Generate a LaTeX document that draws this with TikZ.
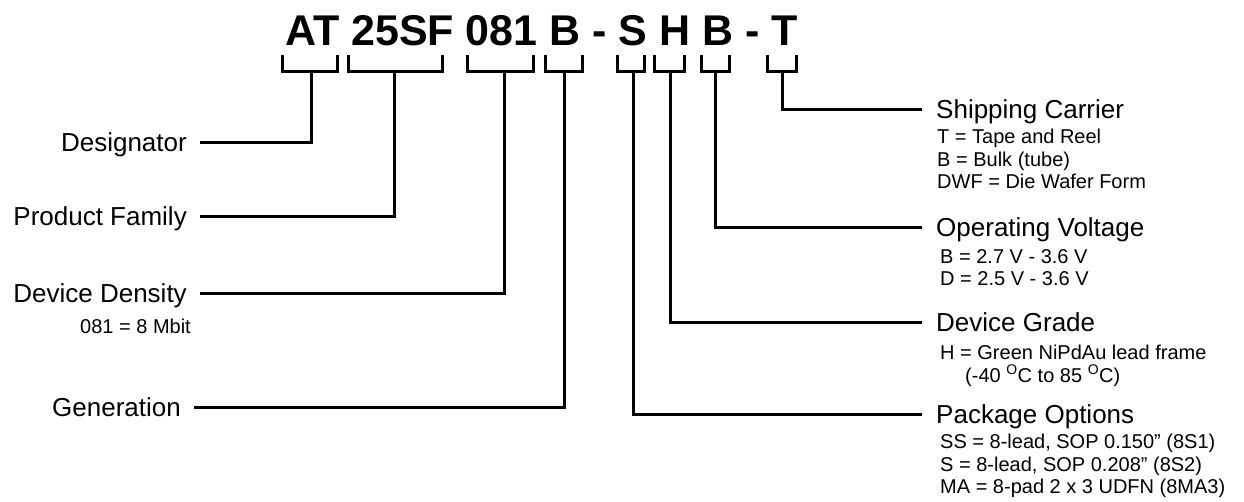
\documentclass[tikz,border=0pt]{standalone}
\usepackage{fontspec}
\setmainfont{Liberation Sans}
\usetikzlibrary{positioning}
\tikzset{
	partcode/.style={font=\fontsize{43}{43}\selectfont\bfseries, inner sep=0pt},
	brk/.style={line width=3pt},
	lead/.style={line width=3pt},
	% field names and their value lists
	field/.style={font=\fontsize{26}{26}\selectfont, inner sep=0pt, text height=18pt, text depth=0pt},
	note/.style={font=\fontsize{20}{22.5}\selectfont, inner sep=0pt, align=left, anchor=north west},
}

\begin{document}
\begin{tikzpicture}[x=1pt, y=-1pt]
	\useasboundingbox (0,0) rectangle (1244,502);
	\node[partcode, anchor=base west] (code) at (285,46) {AT 25SF 081 B - S H B - T};
	\foreach \l/\r/\m/\n in {282/337/311/ds, 348/442/394/pf, 467/533/504/dd, 545/582/564/gn, 617/644/633/po, 654/684/670/dg, 701/729/715/ov, 767/796/782/sc} {
		\draw[brk] (\l,55) |- (\r,72) -- (\r,55);
		\coordinate (b\n) at (\m,72);
	}
	\node[field, anchor=east] (ds) at (187,143) {Designator};
	\node[field, anchor=east] (pf) at (187,217) {Product Family};
	\node[field, anchor=east] (dd) at (187,294) {Device Density};
	\node[field, anchor=east] (gn) at (181,407) {Generation};
	\node[note] (ddn) at (80,319) {081 = 8 Mbit};
	\node[field, anchor=west] (sc) at (936,110) {Shipping Carrier};
	\node[field, anchor=west] (ov) at (936,228) {Operating Voltage};
	\node[field, anchor=west] (dg) at (936,323) {Device Grade};
	\node[field, anchor=west] (po) at (936,414) {Package Options};
	\node[note] (scn) at (937,129) {T = Tape and Reel\\B = Bulk (tube)\\DWF = Die Wafer Form};
	\node[note] (ovn) at (940,249) {B = 2.7 V - 3.6 V\\D = 2.5 V - 3.6 V};
	\node[note] (dgn) at (940,345) {H = Green NiPdAu lead frame\\\hspace*{25pt}(-40 \textsuperscript{O}C to 85 \textsuperscript{O}C)};
	\node[note] (pon) at (940,434) {SS = 8-lead, SOP 0.150” (8S1)\\S = 8-lead, SOP 0.208” (8S2)\\MA = 8-pad 2 x 3 UDFN (8MA3)};
	\foreach \n in {ds, pf, dd, gn}
		\draw[lead] (b\n) |- ([xshift=13pt]\n.east);
	\foreach \n in {sc, ov, dg, po}
		\draw[lead] (b\n) |- ([xshift=-14pt]\n.west);
\end{tikzpicture}
\end{document}
